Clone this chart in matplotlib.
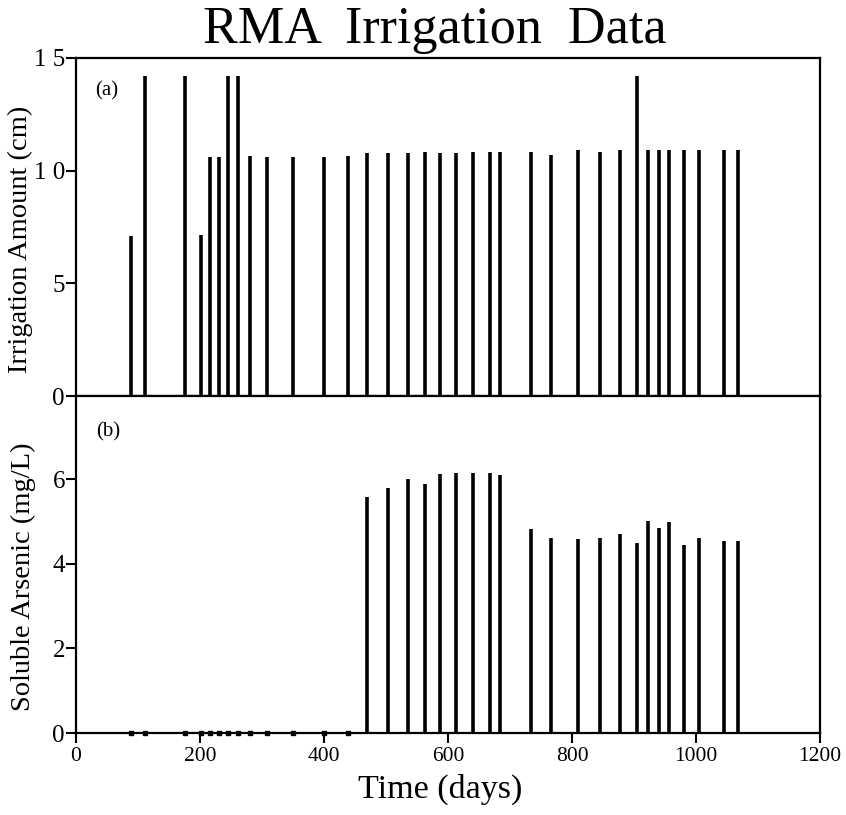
import matplotlib
matplotlib.use("Agg")
import matplotlib.pyplot as plt
import numpy as np

days = [88, 111, 175, 202, 216, 230, 245, 261, 280, 308, 350, 400, 438,
        469, 503, 536, 563, 587, 613, 640, 668, 684, 734, 766, 810, 845,
        878, 905, 922, 941, 956, 980, 1005, 1045, 1067]
irrigation_cm = [7.1, 14.2, 14.2, 7.15, 10.6, 10.6, 14.2, 14.2, 10.65, 10.6,
                 10.6, 10.6, 10.65, 10.8, 10.8, 10.8, 10.85, 10.8, 10.8, 10.85,
                 10.85, 10.85, 10.85, 10.7, 10.9, 10.85, 10.9, 14.2, 10.9, 10.9,
                 10.9, 10.9, 10.9, 10.9, 10.9]
arsenic_mgL = [0, 0, 0, 0, 0, 0, 0, 0, 0, 0, 0, 0, 0,
               5.57, 5.8, 6.01, 5.89, 6.12, 6.15, 6.15, 6.15, 6.1,
               4.82, 4.6, 4.58, 4.62, 4.7, 4.5, 5.02, 4.85, 4.99, 4.44,
               4.62, 4.55, 4.53]
x_ticks = [0, 200, 400, 600, 800, 1000, 1200]
top_yticks = [0, 5, 10, 15]
top_yticklabels = ["0", "5", "1 0", "1 5"]
bot_yticks = [0, 2, 4, 6]

plt.rcParams['font.family'] = ['Liberation Serif', 'DejaVu Serif']

W, H = 846, 815
fig = plt.figure(figsize=(W / 100, H / 100), dpi=100)
L, R = 76 / W, 820 / W
y_top, y_mid, y_bot = 58, 396, 733
ax1 = fig.add_axes([L, 1 - y_mid / H, R - L, (y_mid - y_top) / H])
ax2 = fig.add_axes([L, 1 - y_bot / H, R - L, (y_bot - y_mid) / H])

d = np.array(days)
irr = np.array(irrigation_cm)
ars = np.array(arsenic_mgL)

ax1.vlines(d, 0, irr, color='black', linewidth=2.6)
ax2.vlines(d[ars > 0], 0, ars[ars > 0], color='black', linewidth=2.6)
ax2.plot(d[ars == 0], ars[ars == 0], linestyle='none', marker='s',
         markersize=2.8, color='black', clip_on=False, zorder=5)

for ax in (ax1, ax2):
    ax.set_xlim(0, 1200)
    for s in ax.spines.values():
        s.set_linewidth(1.6)
    ax.tick_params(direction='out', length=7, width=1.5, pad=2)
    ax.tick_params(axis='y', labelsize=18, pad=1)
    ax.tick_params(axis='x', labelsize=15.5, pad=3)

ax1.set_ylim(0, 15)
ax1.set_yticks(top_yticks)
ax1.set_yticklabels(top_yticklabels)
ax1.set_xticks(x_ticks)
ax1.tick_params(axis='x', bottom=False, labelbottom=False)
ax1.set_ylabel("Irrigation Amount (cm)", fontsize=20.5)
ax1.yaxis.set_label_coords(-0.058, 0.462)
ax1.text(0.0255, 0.89, "(a)", transform=ax1.transAxes, fontsize=15,
         va='baseline')

ax2.set_ylim(0, 7.97)
ax2.set_yticks(bot_yticks)
ax2.set_xticks(x_ticks)
ax2.set_ylabel("Soluble Arsenic (mg/L)", fontsize=20.5)
ax2.yaxis.set_label_coords(-0.054, 0.464)
ax2.set_xlabel("Time (days)", fontsize=24.5)
ax2.xaxis.set_label_coords(0.49, -0.122)
ax2.text(0.027, 0.881, "(b)", transform=ax2.transAxes, fontsize=15,
         va='baseline')

fig.text(0.514, 1 - 43 / H, "RMA  Irrigation  Data", ha='center',
         va='baseline', fontsize=37.5)

fig.savefig("out.png", dpi=100)
